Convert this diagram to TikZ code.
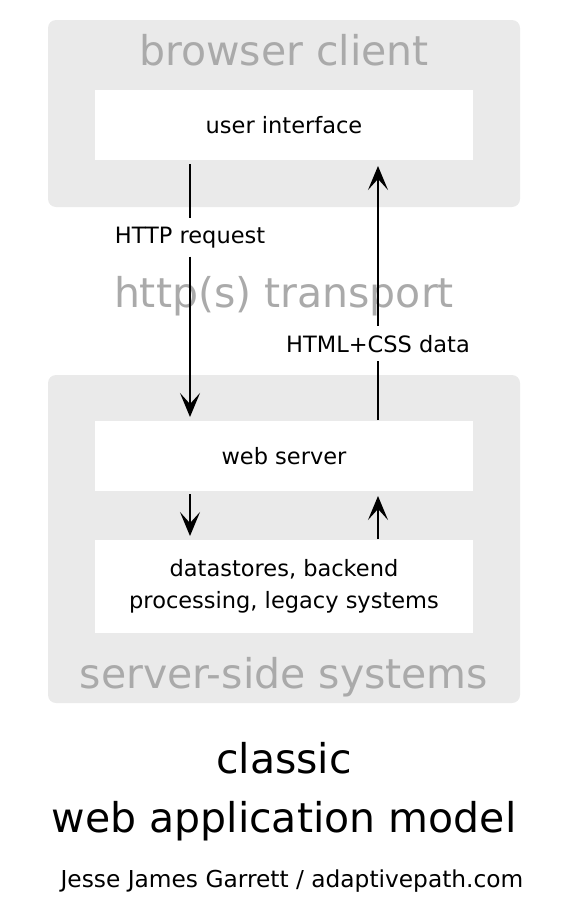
\documentclass[tikz,border=0pt]{standalone}
\usepackage{fontspec}
\setmainfont{DejaVu Sans}
\usetikzlibrary{arrows.meta}
\definecolor{panelgray}{HTML}{EAEAEA}
\definecolor{titlegray}{HTML}{AAAAAA}

\begin{document}
\begin{tikzpicture}[x=1pt, y=-1pt, line width=2pt,
    panel/.style={fill=panelgray, rounded corners=8pt, minimum width=472pt},
    layer/.style={fill=white, minimum width=378pt, minimum height=70pt, align=center, font=\fontsize{22.5}{32}\selectfont},
    big/.style={anchor=base, font=\fontsize{41}{49}\selectfont},
    msg/.style={anchor=base, fill=white, inner sep=8pt, font=\fontsize{22.5}{27}\selectfont},
    >={Stealth[length=24pt, width=20pt, inset=11pt]}]
    \useasboundingbox (0,0) rectangle (580,902);
    \node[panel, minimum height=187pt] (client) at (284,113.5) {};
    \node[panel, minimum height=328pt] (server) at (284,539) {};
    \node[big, titlegray] (clientname) at (284,65) {browser client};
    \node[big, titlegray] (transport) at (284,307) {http(s) transport};
    \node[big, titlegray] (servername) at (284,688) {server-side systems};
    \node[layer] (ui) at (284,125) {user interface};
    \node[layer] (ws) at (284,456) {web server};
    \node[layer, minimum height=93pt] (ds) at (284,586.5) {datastores, backend\\processing, legacy systems};
    \node[msg] (req) at (190,243) {HTTP request};
    \node[msg] (data) at (378,352) {HTML+CSS data};
    \draw[shorten <=3pt] (ui.south -| req) -- (req.north);
    \draw[->, shorten >=3pt] (req.south) -- (ws.north -| req);
    \draw (ws.north -| data) -- (data.south);
    \draw[->, shorten >=5pt] (data.north) -- (ui.south -| data);
    \draw[->, shorten <=2pt, shorten >=3pt] (ws.south -| req) -- (ds.north -| req);
    \draw[->, shorten >=4pt] (ds.north -| data) -- (ws.south -| data);
    \node[big] (classic) at (284,773) {classic};
    \node[big] (model) at (284,832) {web application model};
    \node[anchor=base, font=\fontsize{23.3}{28}\selectfont] (author) at (292,887) {Jesse James Garrett / adaptivepath.com};
\end{tikzpicture}
\end{document}
